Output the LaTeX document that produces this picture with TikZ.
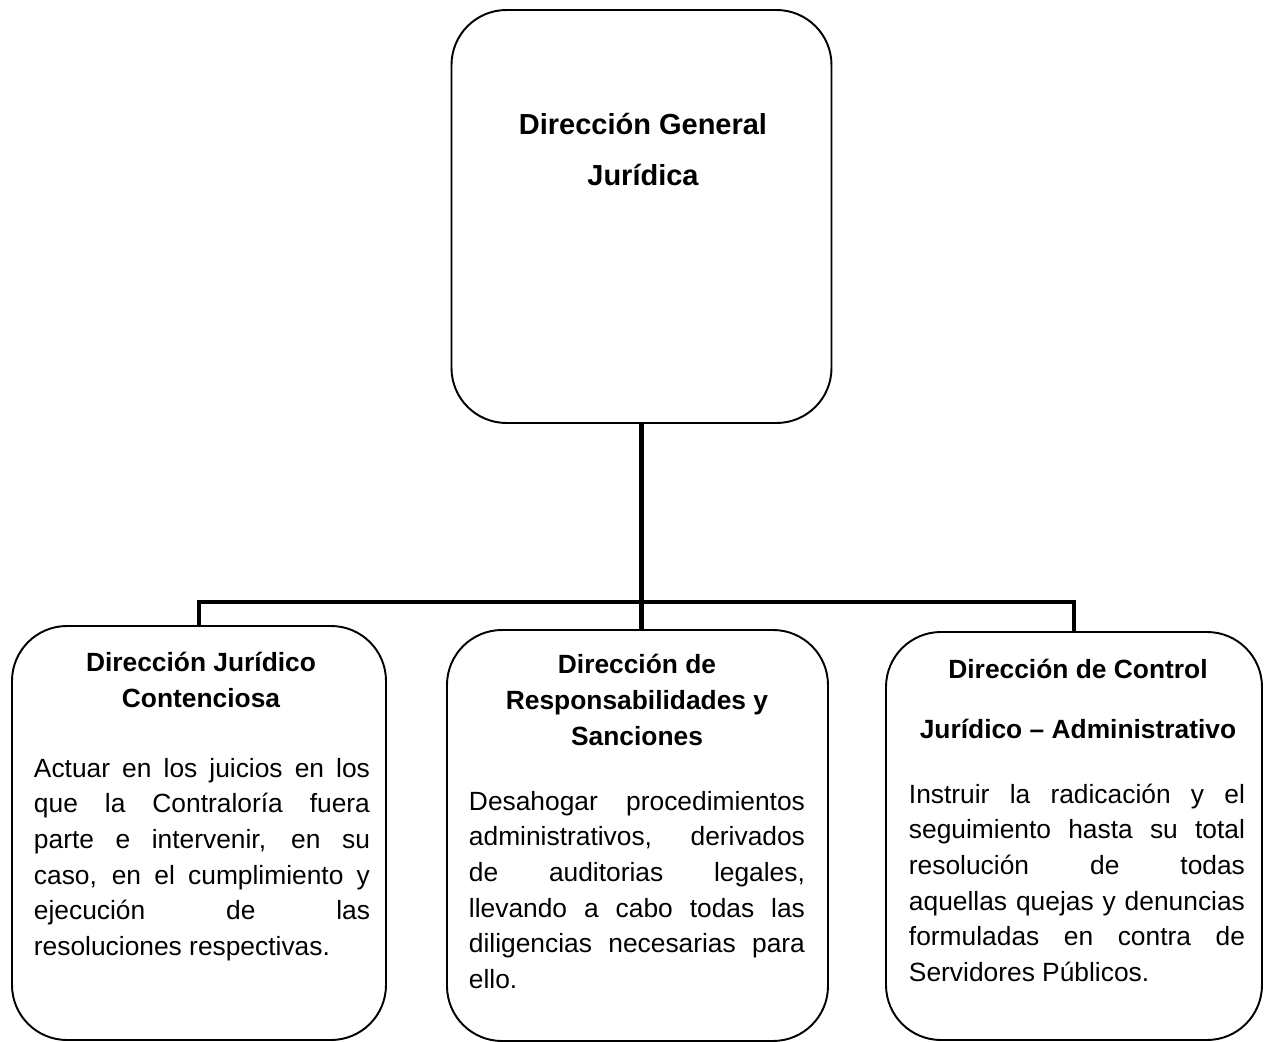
\documentclass[tikz,border=0pt]{standalone}
\usepackage{fontspec}
\setmainfont{Liberation Sans}
\tolerance=10000
\hbadness=10000
\hyphenpenalty=10000

\begin{document}
\begin{tikzpicture}[line width=1.1pt]
    \tikzstyle{unit}=[draw, rounded corners=1.1cm, inner sep=0pt]
    \tikzstyle{head}=[inner sep=0pt, align=center, anchor=base, font=\fontsize{15}{20.3}\selectfont\bfseries]
    \tikzstyle{duty}=[inner sep=0pt, text width=6.72cm, align=justify, anchor=base west, font=\fontsize{15}{20.3}\selectfont]
    \tikzstyle{link}=[line width=2.8pt]

    \useasboundingbox (0,0) rectangle (25.3,-20.84);

    % Draw the general direction box
    \node[unit, minimum width=7.6cm, minimum height=8.26cm] (DG) at (12.83,-4.33) {};
    % (heading nodes sit on the baseline of their last line)
    \node[head, font=\fontsize{16.5}{28.5}\selectfont\bfseries] (DG-h) at (12.86,-3.70) {Dirección General\\Jurídica};

    % Draw the three directions below it
    \node[unit, minimum width=7.48cm, minimum height=8.28cm] (DJC) at (3.98,-16.66) {};
    \node[unit, minimum width=7.62cm, minimum height=8.22cm] (DRS) at (12.75,-16.71) {};
    \node[unit, minimum width=7.52cm, minimum height=8.16cm] (DCJA) at (21.48,-16.72) {};

    % Headings
    \node[head] (DJC-h) at (4.02,-14.14) {Dirección Jurídico\\Contenciosa};
    \node[head] (DRS-h) at (12.74,-14.90) {Dirección de\\Responsabilidades y\\Sanciones};
    \node[head] (DCJA-h) at (21.56,-14.76) {Dirección de Control\\[13.7pt]Jurídico -- Administrativo};

    % Duties of each direction
    \node[duty] (DJC-d) at (0.66,-15.54) {Actuar en los juicios en los\linebreak
        que la Contraloría fuera\linebreak parte e intervenir, en su\linebreak
        caso, en el cumplimiento y\linebreak ejecución de las\linebreak
        resoluciones respectivas.};
    \node[duty] (DRS-d) at (9.36,-16.20) {Desahogar procedimientos\linebreak
        administrativos, derivados\linebreak de auditorias legales,\linebreak
        llevando a cabo todas las\linebreak diligencias necesarias para\linebreak
        ello.};
    \node[duty] (DCJA-d) at (18.16,-16.06) {Instruir la radicación y el\linebreak
        seguimiento hasta su total\linebreak resolución de todas\linebreak
        aquellas quejas y denuncias\linebreak formuladas en contra de\linebreak
        Servidores Públicos.};

    % Connect the general direction with the three directions
    \coordinate (bar) at (12.8,-12.04);
    \draw[link] (DG) -- (DG |- DRS.north);
    \draw[link] (DJC.north) |- (bar) -| (DCJA.north);
\end{tikzpicture}
\end{document}
